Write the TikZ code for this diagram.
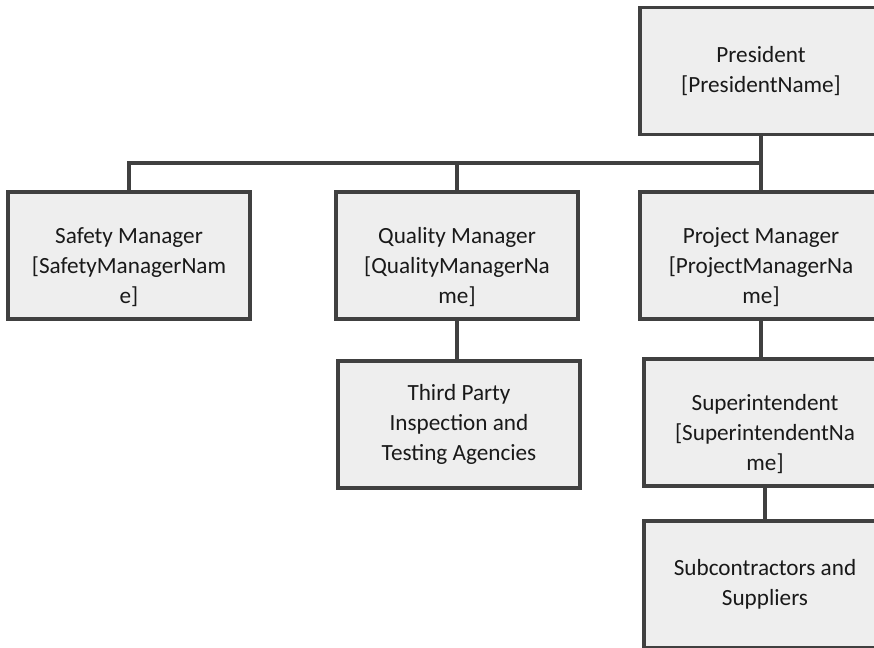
\documentclass[tikz,border=0pt]{standalone}
\usepackage{fontspec}
\setmainfont{Carlito}
\usepackage{tikz}
\definecolor{boxline}{HTML}{404040}
\definecolor{boxfill}{HTML}{EEEEEE}
\newcommand{\dropline}{\rule{0pt}{29pt}}
\tikzset{
	orgbox/.style={draw=boxline,line width=2.6pt,fill=boxfill,minimum width=181.5pt,minimum height=95pt,align=center,text=black!90,font=\fontsize{17.4}{22.5}\selectfont,inner sep=0pt},
	link/.style={draw=boxline,line width=2.6pt}
}
\begin{document}
\begin{tikzpicture}[x=0.75pt,y=-0.75pt]
	\useasboundingbox (0,0) rectangle (874,647);
	\clip (0,0) rectangle (874,647);
	\node[orgbox] (pres) at (761,71) {President\\{}[PresidentName]};
	\node[orgbox] (safety) at (129,255.5) {\dropline Safety Manager\\{}[SafetyManagerNam\\e]};
	\node[orgbox] (quality) at (457,255.5) {\dropline Quality Manager\\{}[QualityManagerNa\\me]};
	\node[orgbox] (project) at (761,255.5) {\dropline Project Manager\\{}[ProjectManagerNa\\me]};
	\node[orgbox] (thirdparty) at (459,424.5) {Third Party\\Inspection and\\Testing Agencies};
	\node[orgbox] (super) at (765,422.5) {\dropline Superintendent\\{}[SuperintendentNa\\me]};
	\node[orgbox] (subs) at (765,584.5) {Subcontractors and\\Suppliers};
	\coordinate (bus) at (764,163);
	\draw[link] (pres.south) -- (pres.south |- bus);
	\draw[link] (safety.north) |- (pres.south |- bus);
	\draw[link] (quality.north) -- (quality.north |- bus);
	\draw[link] (project.north) -- (project.north |- bus);
	\draw[link] (quality.south) -- (thirdparty.north -| quality.south);
	\draw[link] (project.south) -- (super.north -| project.south);
	\draw[link] (super.south) -- (subs.north);
\end{tikzpicture}
\end{document}
